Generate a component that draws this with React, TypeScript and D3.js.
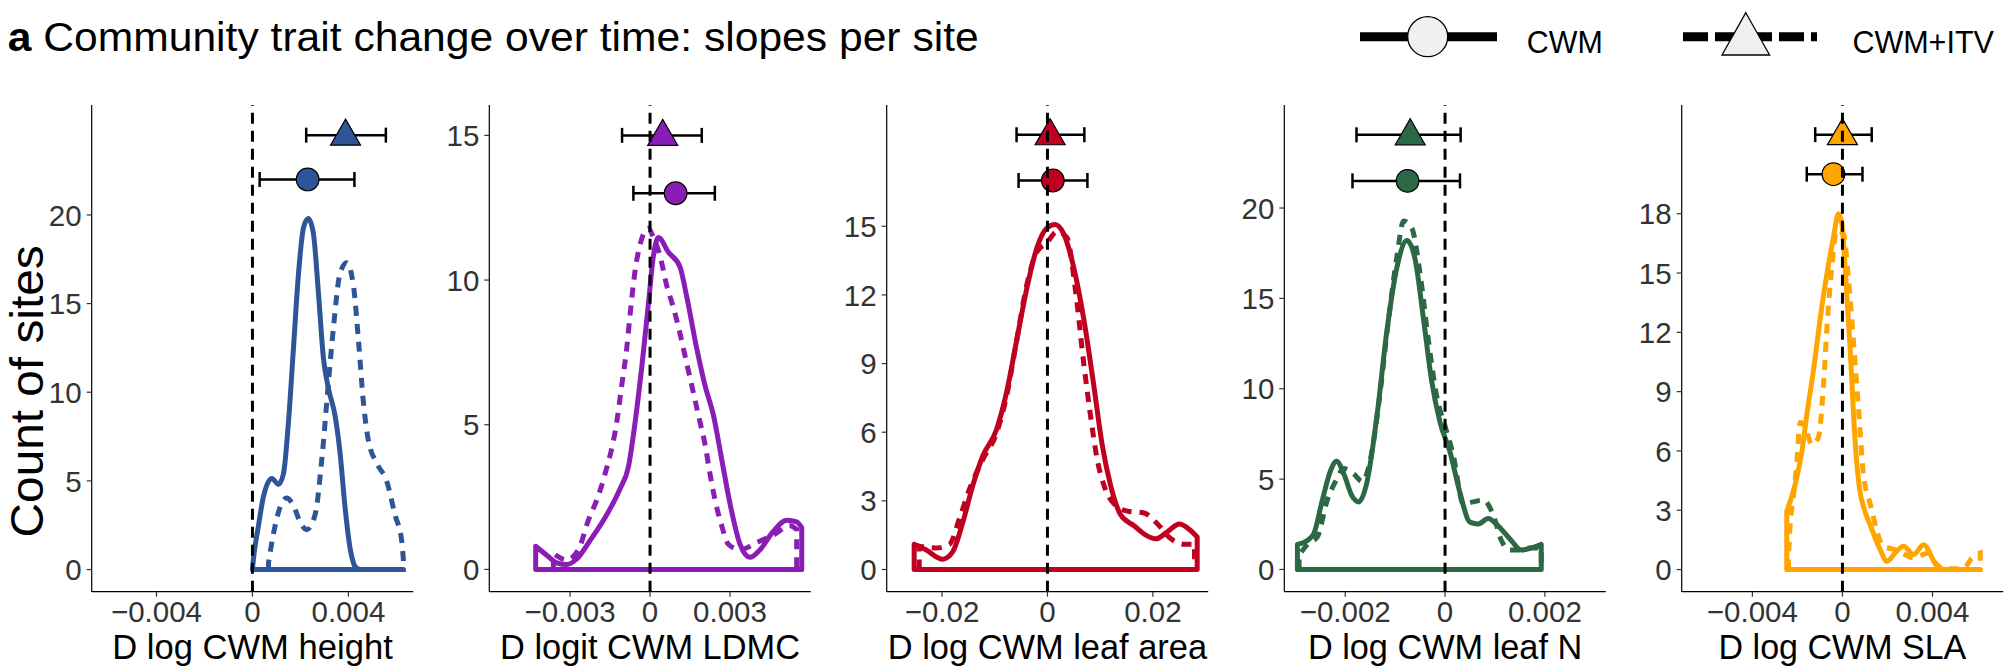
import React from "react";
import * as d3 from "d3";

type Pt = [number, number];

// ---------- data ----------
const traitLabels = ["D log CWM height", "D logit CWM LDMC", "D log CWM leaf area", "D log CWM leaf N", "D log CWM SLA"];
const traitColors = ["#2E5597", "#8A1DB5", "#C00020", "#2D6844", "#FFA500"];
const xHalfRange = [0.0067, 0.00603, 0.0305, 0.00322, 0.00714];
const yDomains: Pt[] = [[-1.25, 26.2], [-0.77, 16.05], [-0.97, 20.3], [-1.23, 25.7], [-1.12, 23.5]];
const yTicks = [[0, 5, 10, 15, 20], [0, 5, 10, 15], [0, 3, 6, 9, 12, 15], [0, 5, 10, 15, 20], [0, 3, 6, 9, 12, 15, 18]];
const xTicks = [[-0.004, 0, 0.004], [-0.003, 0, 0.003], [-0.02, 0, 0.02], [-0.002, 0, 0.002], [-0.004, 0, 0.004]];
const xTickLabels = [
  ["\u22120.004", "0", "0.004"],
  ["\u22120.003", "0", "0.003"],
  ["\u22120.02", "0", "0.02"],
  ["\u22120.002", "0", "0.002"],
  ["\u22120.004", "0", "0.004"],
];

// mean slope and interval, CWM (circle)
const cwmMean = [0.0023, 0.00096, 0.00102, -0.000751, -0.0004];
const cwmLow = [0.0003, -0.000625, -0.00548, -0.001854, -0.001585];
const cwmHigh = [0.00425, 0.00243, 0.00758, 0.000299, 0.000889];
const cwmRow = [22.0, 13.0, 17.0, 21.5, 20.0];
// mean slope and interval, CWM+ITV (triangle)
const itvMean = [0.00388, 0.000475, 0.00051, -0.000698, 0.0];
const itvLow = [0.00224, -0.00105, -0.00586, -0.001774, -0.00121];
const itvHigh = [0.00556, 0.00194, 0.007, 0.000312, 0.0013];
const itvRow = [24.5, 15.0, 19.0, 24.05, 22.0];

// density curves (count of sites), CWM = solid, CWM+ITV = dashed
const heightCWM: Pt[] = [[0, 0], [0.00004, 0.58], [0.00025, 2.46], [0.00046, 4.13], [0.00081, 5.14], [0.00108, 4.8], [0.00129, 5.39], [0.0015, 8.3], [0.00171, 12.5], [0.00192, 16.7], [0.00213, 19.3], [0.00233, 19.8], [0.00254, 18.96], [0.00275, 15.6], [0.00296, 11.9], [0.00317, 10.2], [0.00344, 8.7], [0.00365, 6.6], [0.00386, 3.5], [0.00407, 1.2], [0.00428, 0.17], [0.00449, 0], [0.00629, 0]];
const heightITV: Pt[] = [[0.00067, 0.4], [0.00088, 2.05], [0.00115, 3.5], [0.00143, 4.03], [0.00171, 3.6], [0.00199, 2.67], [0.00226, 2.25], [0.00261, 3.09], [0.00289, 6.2], [0.00317, 10.6], [0.00338, 13.7], [0.00365, 16.7], [0.00393, 17.3], [0.00421, 16.0], [0.00442, 12.9], [0.00463, 9.35], [0.00483, 7.3], [0.00518, 6.0], [0.0056, 4.97], [0.00594, 3.09], [0.00622, 1.63], [0.00629, 0.58]];
const ldmcCWM: Pt[] = [[-0.00429, 0.8], [-0.003875, 0.49], [-0.0035, 0.23], [-0.003125, 0.17], [-0.00275, 0.36], [-0.00225, 1.0], [-0.001625, 1.89], [-0.001125, 2.79], [-0.00081, 3.55], [-0.00056, 5.09], [-0.00031, 7.0], [-0.0000625, 9.17], [0.000125, 10.83], [0.0003125, 11.47], [0.00069, 10.96], [0.001125, 10.45], [0.001375, 9.43], [0.00175, 7.64], [0.00206, 6.36], [0.002375, 5.34], [0.0026875, 3.81], [0.003, 2.27], [0.003375, 0.87], [0.00375, 0.42], [0.004125, 0.68], [0.004625, 1.32], [0.005125, 1.7], [0.0055, 1.64], [0.00569, 1.44]];
const ldmcITV: Pt[] = [[-0.003625, 0.55], [-0.003125, 0.33], [-0.0026875, 0.68], [-0.0023125, 1.7], [-0.002, 2.4], [-0.0016875, 3.3], [-0.00125, 5.09], [-0.0010625, 6.36], [-0.000875, 7.64], [-0.00075, 8.79], [-0.0005625, 10.32], [-0.000375, 11.22], [-0.0000625, 11.79], [0.000125, 11.47], [0.000375, 10.83], [0.000625, 9.81], [0.000875, 9.05], [0.001125, 8.15], [0.0013125, 7.38], [0.0015, 6.62], [0.0016875, 5.85], [0.001875, 5.09], [0.0020625, 4.32], [0.00225, 3.3], [0.0024375, 2.4], [0.0026875, 1.51], [0.0029375, 0.87], [0.003375, 0.68], [0.004, 0.93], [0.004625, 1.19], [0.00525, 1.51], [0.0055, 1.38]];
const areaCWM: Pt[] = [[-0.02529, 1.1], [-0.02306, 0.86], [-0.01987, 0.45], [-0.01796, 0.78], [-0.01605, 2.07], [-0.01414, 3.69], [-0.01223, 4.98], [-0.00968, 6.11], [-0.00777, 7.73], [-0.00586, 9.99], [-0.00395, 12.25], [-0.00204, 14.03], [-0.00013, 14.92], [0.00146, 15.08], [0.00306, 14.68], [0.00497, 13.22], [0.00688, 10.96], [0.00879, 8.05], [0.01038, 5.46], [0.01197, 3.69], [0.01389, 2.39], [0.01643, 1.91], [0.01866, 1.5], [0.02057, 1.34], [0.0228, 1.66], [0.02503, 1.99], [0.02694, 1.75], [0.02841, 1.42]];
const areaITV: Pt[] = [[-0.02433, 1.02], [-0.02115, 0.94], [-0.0186, 1.1], [-0.01669, 2.23], [-0.01478, 3.52], [-0.01223, 4.82], [-0.00968, 5.95], [-0.00777, 7.56], [-0.00586, 9.99], [-0.00395, 12.41], [-0.00204, 13.87], [-0.00013, 14.27], [0.00178, 14.76], [0.00369, 14.51], [0.00529, 12.25], [0.00688, 9.02], [0.00815, 6.76], [0.00943, 4.82], [0.0107, 3.69], [0.01261, 2.88], [0.01516, 2.55], [0.01834, 2.47], [0.02089, 1.99], [0.02344, 1.34], [0.02599, 1.1], [0.0279, 1.1]];
const leafNCWM: Pt[] = [[-0.002957, 1.39], [-0.002757, 1.6], [-0.002625, 2.0], [-0.002458, 3.84], [-0.002292, 5.48], [-0.002173, 5.99], [-0.002027, 5.28], [-0.00186, 4.05], [-0.001728, 3.74], [-0.001561, 4.87], [-0.001362, 8.55], [-0.001163, 13.25], [-0.000963, 16.73], [-0.000764, 18.2], [-0.000598, 17.14], [-0.000432, 13.87], [-0.000266, 10.39], [-0.0001, 8.14], [0.0001, 6.5], [0.000299, 4.25], [0.000498, 2.62], [0.000664, 2.52], [0.000864, 2.82], [0.001063, 2.41], [0.001296, 1.7], [0.001528, 1.08], [0.001728, 1.19], [0.001927, 1.39]];
const leafNITV: Pt[] = [[-0.002924, 0.78], [-0.002757, 1.39], [-0.002558, 1.8], [-0.002359, 3.84], [-0.002193, 4.87], [-0.002027, 5.58], [-0.001827, 5.28], [-0.00166, 4.87], [-0.001495, 6.09], [-0.001329, 9.16], [-0.00113, 13.87], [-0.000963, 17.34], [-0.000831, 19.28], [-0.000664, 18.87], [-0.000498, 16.32], [-0.000332, 12.64], [-0.000166, 9.57], [0, 7.93], [0.000166, 6.3], [0.000365, 3.64], [0.000565, 3.74], [0.000764, 3.84], [0.000963, 3.03], [0.00113, 1.6], [0.001296, 1.08], [0.001495, 1.08], [0.001694, 1.19], [0.001927, 1.19]];
const slaCWM: Pt[] = [[-0.002474, 2.95], [-0.002252, 3.7], [-0.00203, 4.64], [-0.001807, 5.94], [-0.001585, 7.81], [-0.001289, 10.06], [-0.000993, 12.67], [-0.000696, 14.92], [-0.0004, 16.79], [-0.000178, 18.0], [-0.00003, 17.53], [0.000119, 15.29], [0.000341, 11.18], [0.000563, 6.5], [0.000785, 3.9], [0.00093, 3.2], [0.00125, 2.2], [0.00168, 1.0], [0.00197, 0.42], [0.00235, 0.85], [0.00271, 1.18], [0.00316, 0.76], [0.0036, 1.26], [0.0042, 0.17], [0.00449, 0], [0.00612, 0]];
const slaITV: Pt[] = [[-0.0024, 0.52], [-0.002326, 2.2], [-0.002178, 3.7], [-0.00203, 5.38], [-0.00188, 7.44], [-0.00166, 7.25], [-0.001363, 6.32], [-0.001067, 6.69], [-0.000844, 9.31], [-0.000696, 12.11], [-0.000474, 15.29], [-0.000252, 17.16], [0.0000444, 16.97], [0.000267, 14.73], [0.000489, 11.55], [0.000711, 8.19], [0.000933, 4.82], [0.00123, 3.33], [0.00182, 1.18], [0.00234, 1.0], [0.00264, 0.84], [0.00316, 0.59], [0.00382, 0.84], [0.00412, 0.34], [0.00449, 0.06], [0.00493, 0.04], [0.00538, 0.06], [0.00575, 0.59], [0.00612, 0.84]];

const cwmCurves = [heightCWM, ldmcCWM, areaCWM, leafNCWM, slaCWM];
const itvCurves = [heightITV, ldmcITV, areaITV, leafNITV, slaITV];

const titleBold = "a";
const titleRest = " Community trait change over time: slopes per site";
const yAxisTitle = "Count of sites";
const legendLabels = ["CWM", "CWM+ITV"];

// ---------- layout ----------
const W = 2011;
const H = 672;
const FONT = "'Liberation Sans', Arial, Helvetica, sans-serif";
const PANEL_LEFT = [91.7, 489.3, 886.7, 1284.3, 1681.7];
const PANEL_W = 321.5;
const TOP = 105;
const BOTTOM = 591.7;
const XTITLE_LEN = [280.6, 300, 319.3, 274.3, 247.7];
const TICK_FONT = 29.5;

function densityPath(pts: Pt[], x: d3.ScaleLinear<number, number>, y: d3.ScaleLinear<number, number>) {
  const line = d3
    .line<Pt>()
    .x((d) => x(d[0]))
    .y((d) => y(d[1]))
    .curve(d3.curveMonotoneX);
  const p = line(pts) || "";
  const x0 = x(pts[0][0]);
  const x1 = x(pts[pts.length - 1][0]);
  const yb = y(0);
  return `M${x0},${yb}L${p.slice(1)}L${x1},${yb}Z`;
}

function Panel({ i }: { i: number }) {
  const left = PANEL_LEFT[i];
  const x = d3.scaleLinear().domain([-xHalfRange[i], xHalfRange[i]]).range([left, left + PANEL_W]);
  const y = d3.scaleLinear().domain(yDomains[i]).range([BOTTOM, TOP]);
  const col = traitColors[i];
  const cx = (left + left + PANEL_W) / 2;

  const triPath = (px: number, py: number) => `M${px},${py - 16}L${px + 15},${py + 10}L${px - 15},${py + 10}Z`;

  const bars = [
    { m: cwmMean[i], lo: cwmLow[i], hi: cwmHigh[i], r: cwmRow[i] },
    { m: itvMean[i], lo: itvLow[i], hi: itvHigh[i], r: itvRow[i] },
  ];

  return (
    <g>
      {/* density curves */}
      <path d={densityPath(itvCurves[i], x, y)} fill="none" stroke={col} strokeWidth={5} strokeDasharray="10 8" />
      <path d={densityPath(cwmCurves[i], x, y)} fill="none" stroke={col} strokeWidth={5} strokeLinejoin="round" />

      {/* error bars */}
      {bars.map((b, k) => (
        <g key={k} stroke="#000" strokeWidth={2.5}>
          <line x1={x(b.lo)} x2={x(b.hi)} y1={y(b.r)} y2={y(b.r)} />
          <line x1={x(b.lo)} x2={x(b.lo)} y1={y(b.r) - 7.5} y2={y(b.r) + 7.5} />
          <line x1={x(b.hi)} x2={x(b.hi)} y1={y(b.r) - 7.5} y2={y(b.r) + 7.5} />
        </g>
      ))}
      <circle cx={x(cwmMean[i])} cy={y(cwmRow[i])} r={11.3} fill={col} stroke="#000" strokeWidth={1.2} />
      <path d={triPath(x(itvMean[i]), y(itvRow[i]))} fill={col} stroke="#000" strokeWidth={1.2} />

      {/* zero reference */}
      <line x1={x(0)} x2={x(0)} y1={BOTTOM} y2={TOP} stroke="#000" strokeWidth={3} strokeDasharray="11 7" />

      {/* axes */}
      <line x1={left} x2={left} y1={TOP} y2={BOTTOM} stroke="#000" strokeWidth={1.2} />
      <line x1={left} x2={left + PANEL_W} y1={BOTTOM} y2={BOTTOM} stroke="#000" strokeWidth={1.2} />
      {yTicks[i].map((t) => (
        <g key={"y" + t}>
          <line x1={left - 5} x2={left} y1={y(t)} y2={y(t)} stroke="#333" strokeWidth={1.2} />
          <text x={left - 10} y={y(t)} dy="0.36em" textAnchor="end" fontSize={TICK_FONT} fill="#333" fontFamily={FONT}>
            {t}
          </text>
        </g>
      ))}
      {xTicks[i].map((t, k) => (
        <g key={"x" + k}>
          <line x1={x(t)} x2={x(t)} y1={BOTTOM} y2={BOTTOM + 5} stroke="#333" strokeWidth={1.2} />
          <text x={x(t)} y={622} textAnchor="middle" fontSize={TICK_FONT} fill="#333" fontFamily={FONT}>
            {xTickLabels[i][k]}
          </text>
        </g>
      ))}
      <text
        x={cx}
        y={659.3}
        textAnchor="middle"
        fontSize={35}
        fill="#000"
        fontFamily={FONT}
        textLength={XTITLE_LEN[i]}
        lengthAdjust="spacingAndGlyphs"
      >
        {traitLabels[i]}
      </text>
    </g>
  );
}

export default function App() {
  const legY = 36.7;
  return (
    <svg
      width={W}
      height={H}
      viewBox={`0 0 ${W} ${H}`}
      style={{ position: "absolute", left: 0, top: 0, background: "#fff" }}
    >
      <rect x={0} y={0} width={W} height={H} fill="#fff" />
      <text x={7.7} y={51} fontSize={41} fontFamily={FONT} fill="#000" textLength={971} lengthAdjust="spacingAndGlyphs">
        <tspan fontWeight="bold">{titleBold}</tspan>
        <tspan>{titleRest}</tspan>
      </text>

      {/* legend */}
      <line x1={1360} x2={1497} y1={legY} y2={legY} stroke="#000" strokeWidth={9} />
      <circle cx={1427.7} cy={legY} r={20} fill="#F0F0F0" stroke="#000" strokeWidth={1.3} />
      <text x={1526.8} y={53.3} fontSize={31} fontFamily={FONT} fill="#000" textLength={76} lengthAdjust="spacingAndGlyphs">
        {legendLabels[0]}
      </text>
      <line x1={1683} x2={1817} y1={legY} y2={legY} stroke="#000" strokeWidth={9} strokeDasharray="25 7" />
      <path d={`M1745.8,12.7L1769.6,55L1722,55Z`} fill="#F0F0F0" stroke="#000" strokeWidth={1.3} />
      <text x={1852.4} y={53.3} fontSize={31} fontFamily={FONT} fill="#000" textLength={141.5} lengthAdjust="spacingAndGlyphs">
        {legendLabels[1]}
      </text>

      {/* y axis title */}
      <text
        transform="translate(42.5,391.4) rotate(-90)"
        textAnchor="middle"
        fontSize={46}
        fontFamily={FONT}
        fill="#000"
        textLength={292}
        lengthAdjust="spacingAndGlyphs"
      >
        {yAxisTitle}
      </text>

      {traitLabels.map((_, i) => (
        <Panel key={i} i={i} />
      ))}
    </svg>
  );
}
